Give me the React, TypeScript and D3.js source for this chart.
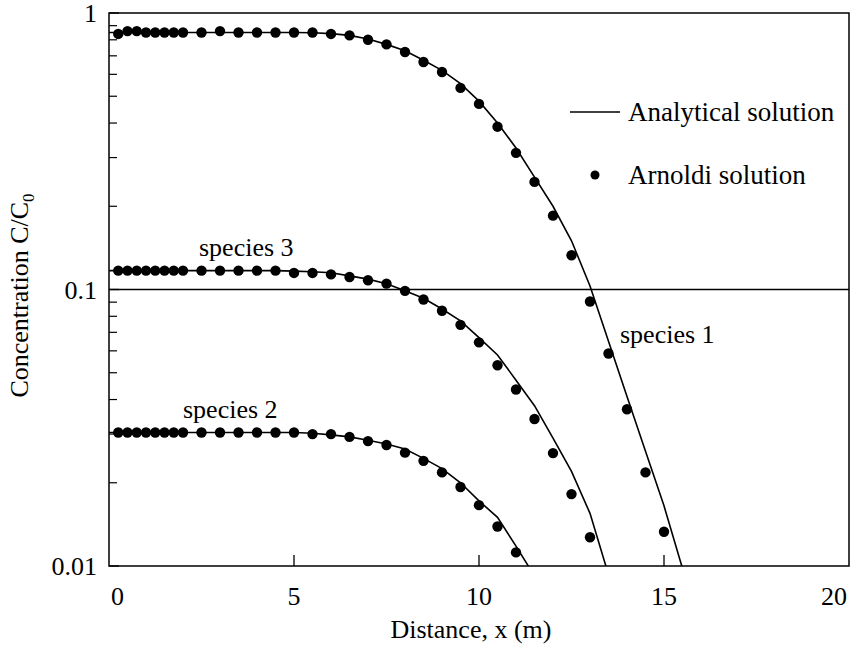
import React from "react";
import * as d3 from "d3";

// Distances (m) at which the Arnoldi solution was evaluated
const dotX = [0.25, 0.5, 0.75, 1, 1.25, 1.5, 1.75, 2, 2.5, 3, 3.5, 4, 4.5, 5, 5.5, 6, 6.5, 7, 7.5, 8, 8.5, 9, 9.5, 10, 10.5, 11, 11.5, 12, 12.5, 13, 13.5, 14, 14.5, 15];

// Arnoldi solution, C/C0
const arnoldi1 = [0.84, 0.86, 0.86, 0.85, 0.85, 0.85, 0.85, 0.85, 0.85, 0.86, 0.85, 0.85, 0.85, 0.85, 0.85, 0.84, 0.83, 0.8, 0.77, 0.723, 0.665, 0.612, 0.536, 0.469, 0.388, 0.312, 0.245, 0.185, 0.133, 0.0905, 0.0587, 0.0369, 0.0218, 0.0133];
const arnoldi3 = [0.117, 0.117, 0.117, 0.117, 0.117, 0.117, 0.117, 0.117, 0.117, 0.117, 0.117, 0.117, 0.117, 0.1148, 0.1148, 0.1134, 0.111, 0.108, 0.105, 0.0989, 0.092, 0.0838, 0.0745, 0.0644, 0.0532, 0.0435, 0.034, 0.0256, 0.0182, 0.0127];
const arnoldi2 = [0.0304, 0.0304, 0.0304, 0.0304, 0.0304, 0.0304, 0.0304, 0.0304, 0.0304, 0.0304, 0.0304, 0.0304, 0.0304, 0.0304, 0.03, 0.03, 0.0293, 0.0283, 0.0274, 0.0257, 0.024, 0.0218, 0.0193, 0.0166, 0.0139, 0.0112];

// Analytical solution, C/C0, at 0.5 m spacing from x = 0
const lineX = [0, 0.5, 1, 1.5, 2, 2.5, 3, 3.5, 4, 4.5, 5, 5.5, 6, 6.5, 7, 7.5, 8, 8.5, 9, 9.5, 10, 10.5, 11, 11.5, 12, 12.5, 13, 13.5, 14, 14.5, 15, 15.5];
const analytical1 = [0.85, 0.85, 0.85, 0.85, 0.85, 0.85, 0.85, 0.85, 0.85, 0.85, 0.85, 0.848, 0.842, 0.83, 0.805, 0.77, 0.73, 0.675, 0.62, 0.555, 0.48, 0.4, 0.325, 0.255, 0.2, 0.15, 0.103, 0.065, 0.041, 0.026, 0.0165, 0.0098];
const analytical3 = [0.117, 0.117, 0.117, 0.117, 0.117, 0.117, 0.117, 0.117, 0.117, 0.117, 0.1165, 0.116, 0.115, 0.112, 0.109, 0.105, 0.099, 0.093, 0.085, 0.077, 0.067, 0.058, 0.047, 0.038, 0.029, 0.022, 0.0155, 0.0093];
const analytical2 = [0.0304, 0.0304, 0.0304, 0.0304, 0.0304, 0.0304, 0.0304, 0.0304, 0.0304, 0.0304, 0.0304, 0.0302, 0.0298, 0.0293, 0.0285, 0.0276, 0.0265, 0.0245, 0.0225, 0.02, 0.0172, 0.015, 0.0118, 0.0092];

const xTicks = [0, 5, 10, 15, 20];
const yMajor = [1, 0.1, 0.01];
const yTickLabels = ["1", "0.1", "0.01"];
const speciesNames = ["species 1", "species 2", "species 3"];
const legendLabels = ["Analytical solution", "Arnoldi solution"];

const W = 856;
const H = 648;
const left = 109;
const right = 849;
const top = 13;
const bottom = 566;
const FONT = "'Times New Roman', Times, 'Liberation Serif', 'DejaVu Serif', serif";
const FS = 26;

export default function App() {
  const x = d3.scaleLinear().domain([0, 20]).range([left, right]);
  const y = d3.scaleLog().domain([0.01, 1]).range([bottom, top]);

  const line = d3
    .line<[number, number]>()
    .x((d) => x(d[0]))
    .y((d) => y(d[1]));

  const curves = [analytical1, analytical3, analytical2].map((vals) =>
    line(vals.map((v, i) => [lineX[i], v] as [number, number]))
  );
  const dotSets = [arnoldi1, arnoldi3, arnoldi2];

  // minor ticks 2..9 in each decade
  const minor: number[] = [];
  [0.01, 0.1].forEach((dec) => {
    for (let k = 2; k <= 9; k++) minor.push(dec * k);
  });

  return (
    <svg
      width={W}
      height={H}
      style={{ position: "absolute", left: 0, top: 0, background: "#fff" }}
    >
      <defs>
        <clipPath id="plotClip">
          <rect x={left} y={top} width={right - left} height={bottom - top} />
        </clipPath>
      </defs>

      {/* frame */}
      <rect x={left} y={top} width={right - left} height={bottom - top} fill="none" stroke="#000" strokeWidth={1.5} />

      {/* horizontal rule at the 0.1 decade */}
      <line x1={left} x2={right} y1={y(0.1)} y2={y(0.1)} stroke="#000" strokeWidth={1.3} />

      {/* y ticks, drawn inward */}
      {minor.map((v, i) => (
        <line key={"m" + i} x1={left} x2={left + 8} y1={y(v)} y2={y(v)} stroke="#000" strokeWidth={1.2} />
      ))}
      {yMajor.map((v, i) => (
        <line key={"M" + i} x1={left} x2={left + 10} y1={y(v)} y2={y(v)} stroke="#000" strokeWidth={1.3} />
      ))}

      <g fontFamily={FONT} fontSize={FS} fill="#000">
        {yMajor.map((v, i) => (
          <text key={"yl" + i} x={left - 12} y={y(v) + 9} textAnchor="end">
            {yTickLabels[i]}
          </text>
        ))}

        {xTicks.map((t, i) => {
          const anchor = i === 0 ? "start" : i === xTicks.length - 1 ? "end" : "middle";
          const dx = i === 0 ? 2 : i === xTicks.length - 1 ? -2 : 0;
          return (
            <text key={"xl" + t} x={x(t) + dx} y={bottom + 39} textAnchor={anchor}>
              {t}
            </text>
          );
        })}

        {/* axis titles */}
        <text x={x(10) - 8} y={bottom + 72} textAnchor="middle">
          Distance, x (m)
        </text>
        <text transform={`translate(28, ${(top + bottom) / 2 + 6}) rotate(-90)`} textAnchor="middle">
          Concentration C/C
          <tspan fontSize={17} dy={6}>0</tspan>
        </text>

        {/* species labels */}
        <text x={620} y={343}>{speciesNames[0]}</text>
        <text x={183} y={418}>{speciesNames[1]}</text>
        <text x={199} y={256}>{speciesNames[2]}</text>

        {/* legend text */}
        <text x={628} y={121} fontSize={27}>{legendLabels[0]}</text>
        <text x={628} y={184} fontSize={27}>{legendLabels[1]}</text>
      </g>

      {/* x ticks, drawn inward */}
      {xTicks.slice(1, -1).map((t) => (
        <line key={"xt" + t} x1={x(t)} x2={x(t)} y1={bottom} y2={bottom - 11} stroke="#000" strokeWidth={1.3} />
      ))}

      {/* analytical curves */}
      <g clipPath="url(#plotClip)">
        {curves.map((d, i) => (
          <path key={"c" + i} d={d || ""} fill="none" stroke="#000" strokeWidth={1.6} />
        ))}
      </g>

      {/* Arnoldi points */}
      {dotSets.map((vals, si) =>
        vals.map((v, i) => (
          <circle key={`d${si}-${i}`} cx={x(dotX[i])} cy={y(v)} r={5.2} fill="#000" />
        ))
      )}

      {/* legend marks */}
      <line x1={570} x2={620} y1={112} y2={112} stroke="#000" strokeWidth={1.5} />
      <circle cx={595} cy={175} r={4.5} fill="#000" />
    </svg>
  );
}
